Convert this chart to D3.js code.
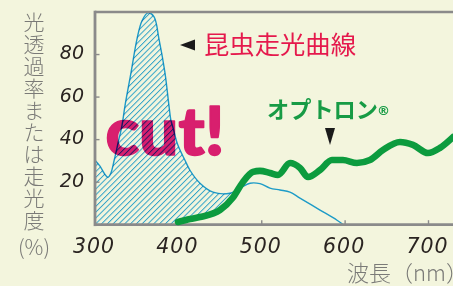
<!DOCTYPE html>
<html><head><meta charset="utf-8">
<script src="https://cdn.jsdelivr.net/npm/d3@7"></script>
<style>
html,body{margin:0;padding:0;background:#f3f5dd;overflow:hidden;}
svg{display:block;}
</style></head>
<body>
<script>
// ---- data ----
const blueNm  = [300,306,311,315.6,319,323,327.6,332.4,336,343.2,350.4,356.4,363.5,370.7,376.7,383.9,388.7,391.1,393.5,399.5,407.9,413.9,425.9,441.5,461.9,473.9,485.9,497.8,509.8,521.8,533.8,545.8,569.9,590.3,598];
const blueVal = [30.3,27.5,24.2,22.3,24.2,30.3,38.3,46.7,56,71.5,87.4,95.9,99.6,97.8,87.4,71.5,56,49,45.7,37.3,30.3,25.6,19.5,15.3,14.8,17.2,19.5,19.3,17.2,16.3,15.3,12.5,6.9,2.1,0];
const greenNm  = [399.5,413.9,425.9,449.9,465.5,477.5,489.5,497.9,509.9,519.5,533.9,545.9,555.5,569.9,584.2,597.4,614.2,629.8,645.4,665.8,681.4,699.4,713.8,729.4];
const greenVal = [1.3,2.7,3.6,6.9,12.8,20.1,24.8,25.3,24.3,23.4,29,26.7,22.4,25.7,30.4,30.4,29,30.4,35.1,38.9,37.5,33.7,36.1,41.2];
const xTicks = [300,400,500,600,700];
const yTicks = [20,40,60,80];
const yTitle = "光透過率または走光度";
const yUnit = "(%)";
const xTitle = "波長（nm）";
const insectLabel = "昆虫走光曲線";
const productLabel = "オプトロン";

const W = 453, H = 286;
const x = d3.scaleLinear().domain([300,700]).range([95,428.5]);
const y = d3.scaleLinear().domain([0,100]).range([224.7,12]);

const svg = d3.select("body").append("svg").attr("width",W).attr("height",H);
svg.append("rect").attr("width",W).attr("height",H).attr("fill","#f3f5dd");

const defs = svg.append("defs");
const pat = defs.append("pattern").attr("id","hatch").attr("patternUnits","userSpaceOnUse")
  .attr("width",4.1).attr("height",4.1).attr("patternTransform","rotate(45)");
pat.append("line").attr("x1",0.5).attr("y1",0).attr("x2",0.5).attr("y2",4.1)
  .attr("stroke","#1ea2e6").attr("stroke-width",0.9);

const blue = blueNm.map((d,i)=>[d,blueVal[i]]);
const green = greenNm.map((d,i)=>[d,greenVal[i]]);
const curve = d3.curveCatmullRom.alpha(0.5);
const gCurve = d3.curveMonotoneX;

// clip: region above green curve (and everything before green starts)
const clipData = [[300,0],[399,0]].concat(green).concat([[740,greenVal[greenVal.length-1]]]);
defs.append("clipPath").attr("id","aboveGreen").append("path")
  .attr("d", d3.area().x(d=>x(d[0])).y0(d=>y(d[1])).y1(y(100)).curve(gCurve)(clipData));

// "cut!" text
svg.append("text").attr("x",105.5).attr("y",155)
  .attr("font-family","Lato").attr("font-weight",900).attr("font-size",66)
  .attr("textLength",119).attr("lengthAdjust","spacingAndGlyphs")
  .attr("fill","#d81f6e").attr("stroke","#d81f6e").attr("stroke-width",1.6)
  .attr("stroke-linejoin","round").text("cut!");

// hatch area
svg.append("path").attr("clip-path","url(#aboveGreen)")
  .attr("d", d3.area().x(d=>x(d[0])).y0(y(0)).y1(d=>y(d[1])).curve(curve)(blue))
  .attr("fill","url(#hatch)").style("mix-blend-mode","multiply");

// blue curve
svg.append("path").attr("d", d3.line().x(d=>x(d[0])).y(d=>y(d[1])).curve(curve)(blue))
  .attr("fill","none").attr("stroke","#1ea2e6").attr("stroke-width",1.4)
  .style("mix-blend-mode","multiply");

// axes frame
const axisColor = "#8a8a8a";
const g = svg.append("g");
g.append("line").attr("x1",x(300)).attr("x2",W).attr("y1",y(100)).attr("y2",y(100)).attr("stroke",axisColor).attr("stroke-width",2.6);
g.append("line").attr("x1",x(300)).attr("x2",W).attr("y1",y(0)).attr("y2",y(0)).attr("stroke",axisColor).attr("stroke-width",2.8);
g.append("line").attr("x1",x(300)).attr("x2",x(300)).attr("y1",y(100)-1.3).attr("y2",y(0)+1.4).attr("stroke",axisColor).attr("stroke-width",2.8);
g.selectAll(".yt").data(yTicks).enter().append("line")
  .attr("x1",x(300)).attr("x2",x(300)+4.5).attr("y1",d=>y(d)).attr("y2",d=>y(d))
  .attr("stroke",axisColor).attr("stroke-width",1.4);
g.selectAll(".xt").data(xTicks.slice(1)).enter().append("line")
  .attr("x1",d=>x(d)).attr("x2",d=>x(d)).attr("y1",y(0)).attr("y2",y(0)-4.5)
  .attr("stroke",axisColor).attr("stroke-width",1.4);

// green curve
svg.append("path").attr("d", d3.line().x(d=>x(d[0])).y(d=>y(d[1])).curve(gCurve)(green))
  .attr("fill","none").attr("stroke","#0c9b3e").attr("stroke-width",6.6)
  .attr("stroke-linecap","round").attr("stroke-linejoin","round");

// tick labels
const numFont = "DejaVu Sans";
svg.selectAll(".yl").data(yTicks).enter().append("text")
  .attr("x",84).attr("y",d=>y(d)+4.5).attr("text-anchor","end")
  .attr("font-family",numFont).attr("font-style","italic").attr("font-size",19)
  .attr("fill","#2a2421").text(d=>d);
svg.selectAll(".xl").data(xTicks).enter().append("text")
  .attr("x",d=>x(d)-1).attr("y",252.5).attr("text-anchor","middle")
  .attr("font-family",numFont).attr("font-style","italic").attr("font-size",20.5)
  .attr("letter-spacing",1)
  .attr("fill","#2a2421").text(d=>d);

// axis titles
const cjk = "Noto Sans CJK JP";
const titleColor = "#7a7a77";
svg.selectAll(".yc").data(yTitle.split("")).enter().append("text")
  .attr("x",34).attr("y",(d,i)=>21+22*i).attr("text-anchor","middle")
  .attr("dominant-baseline","central")
  .attr("font-family",cjk).attr("font-weight",300).attr("font-size",21)
  .attr("fill",titleColor).text(d=>d);
svg.append("text").attr("x",34).attr("y",246).attr("text-anchor","middle")
  .attr("dominant-baseline","central")
  .attr("font-family",cjk).attr("font-weight",300).attr("font-size",21)
  .attr("fill",titleColor).text(yUnit);
svg.append("text").attr("x",347).attr("y",281).attr("font-family",cjk)
  .attr("font-weight",300).attr("font-size",22).attr("fill",titleColor).text(xTitle);

// insect label
svg.append("path").attr("d","M180,45 L195,39.5 L195,50.5 Z").attr("fill","#1a1a1a");
svg.append("text").attr("x",204).attr("y",53.5).attr("font-family",cjk)
  .attr("font-size",24.5).attr("fill","#e5194c").attr("textLength",152)
  .attr("lengthAdjust","spacingAndGlyphs").text(insectLabel);

// product label
svg.append("text").attr("x",267).attr("y",117.5).attr("font-family",cjk)
  .attr("font-weight",700).attr("font-size",22.5).attr("fill","#179b45")
  .attr("textLength",111).attr("lengthAdjust","spacingAndGlyphs").text(productLabel);
svg.append("text").attr("x",383.5).attr("y",114.5).attr("text-anchor","middle")
  .attr("font-family","DejaVu Sans").attr("font-weight",700).attr("font-size",13)
  .attr("fill","#179b45").text("®");
svg.append("path").attr("d","M325,128 L335,128 L330,145 Z").attr("fill","#1a1a1a");
</script>
</body></html>
